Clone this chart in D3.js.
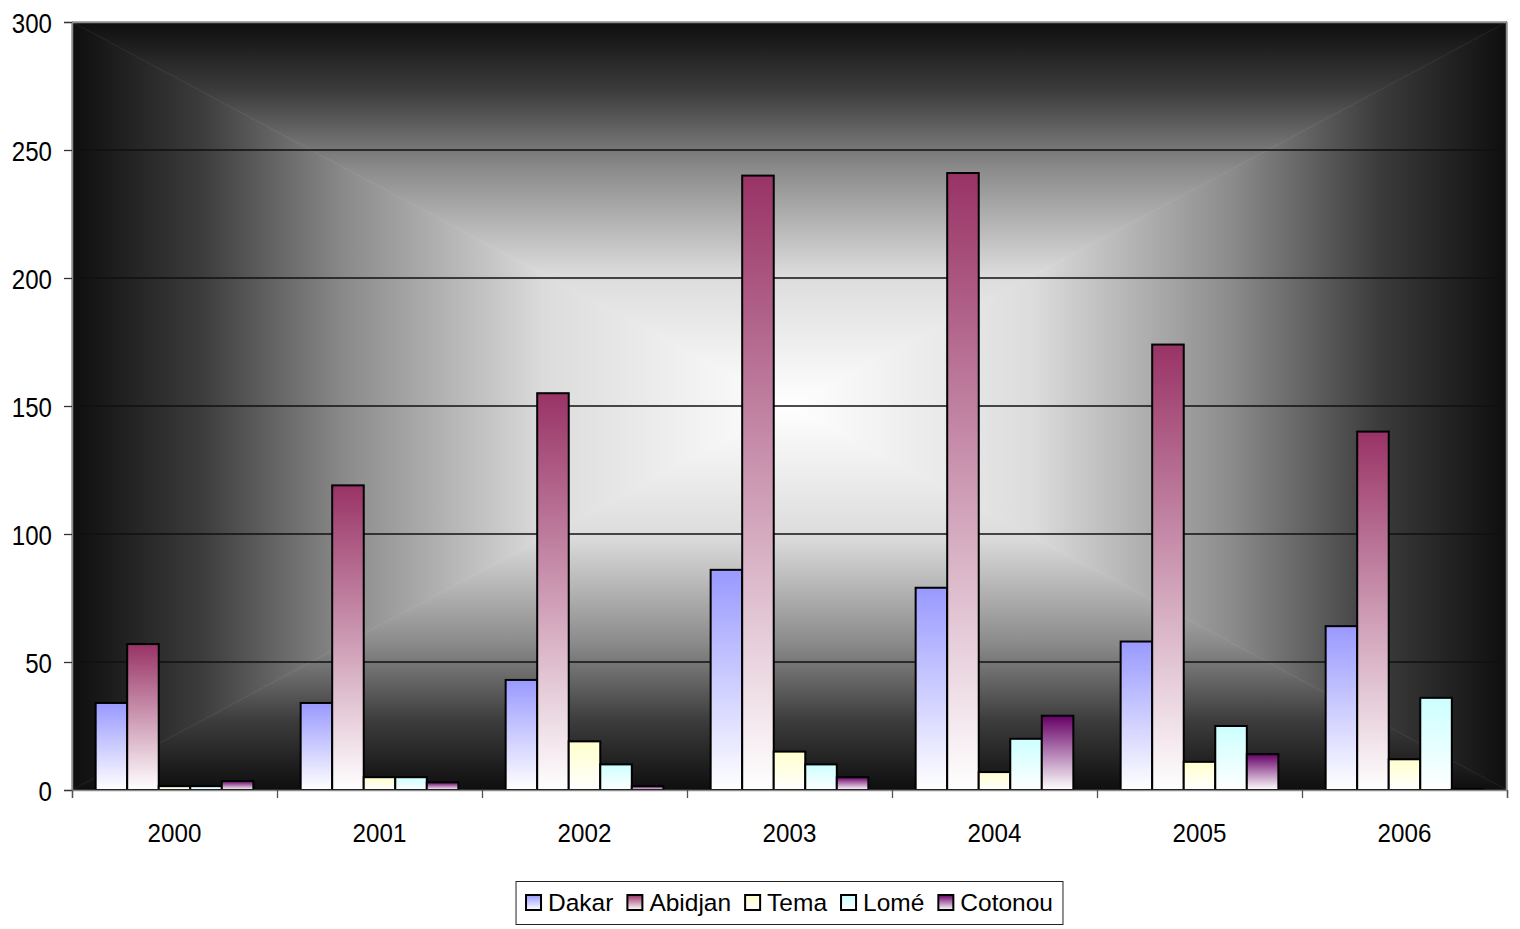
<!DOCTYPE html>
<html>
<head>
<meta charset="utf-8">
<script src="https://cdn.jsdelivr.net/npm/d3@7"></script>
<style>
  html, body { margin: 0; padding: 0; background: #fff; }
  svg { display: block; }
  text { font-family: "Liberation Sans", Arial, sans-serif; fill: #000; }
</style>
</head>
<body>
<svg id="chart" width="1520" height="929"></svg>
<script>
// Yearly values per port
const years = ["2000", "2001", "2002", "2003", "2004", "2005", "2006"];
const ports = ["Dakar", "Abidjan", "Tema", "Lomé", "Cotonou"];
const dakar   = [34, 34, 43, 86, 79, 58, 64];
const abidjan = [57, 119, 155, 240, 241, 174, 140];
const tema    = [1.5, 5, 19, 15, 7, 11, 12];
const lome    = [1.5, 5, 10, 10, 20, 25, 36];
const cotonou = [3.5, 3, 1.5, 5, 29, 14, 0.4];
const yTicks  = [0, 50, 100, 150, 200, 250, 300];

const seriesValues = [dakar, abidjan, tema, lome, cotonou];
const portColors = ["#9999FF", "#993366", "#FFFFCC", "#CCFFFF", "#660066"];

const svg = d3.select("#chart");
const margin = { left: 72, top: 22, right: 13, bottom: 139 };
const W = 1520 - margin.left - margin.right;
const H = 929 - margin.top - margin.bottom;

const defs = svg.append("defs");

// Bar fills: series colour at the top fading to white at the base
portColors.forEach((c, i) => {
  const g = defs.append("linearGradient")
    .attr("id", "bar" + i)
    .attr("x1", 0).attr("y1", 0).attr("x2", 0).attr("y2", 1);
  g.append("stop").attr("offset", 0).attr("stop-color", c);
  g.append("stop").attr("offset", 1).attr("stop-color", "#ffffff");
});

const plot = svg.append("g").attr("transform", `translate(${margin.left},${margin.top})`);

// Plot background: rectangular "from centre" gradient, dark edges, white middle
const profile = [[0, "#0e0e0e"], [0.18, "#3c3c3c"], [0.38, "#8a8a8a"], [0.66, "#dcdcdc"], [1, "#ffffff"]];
const cx = W / 2, cy = H / 2;
const sides = [
  { id: "bgT", pts: [[0, 0], [W, 0], [cx, cy]], v: [0, 0, 0, cy] },
  { id: "bgB", pts: [[0, H], [W, H], [cx, cy]], v: [0, H, 0, cy] },
  { id: "bgL", pts: [[0, 0], [0, H], [cx, cy]], v: [0, 0, cx, 0] },
  { id: "bgR", pts: [[W, 0], [W, H], [cx, cy]], v: [W, 0, cx, 0] }
];
sides.forEach(s => {
  const g = defs.append("linearGradient")
    .attr("id", s.id).attr("gradientUnits", "userSpaceOnUse")
    .attr("x1", s.v[0]).attr("y1", s.v[1]).attr("x2", s.v[2]).attr("y2", s.v[3]);
  profile.forEach(p => g.append("stop").attr("offset", p[0]).attr("stop-color", p[1]));
  plot.append("polygon")
    .attr("points", s.pts.map(p => p.join(",")).join(" "))
    .attr("fill", `url(#${s.id})`)
    .attr("stroke", `url(#${s.id})`)
    .attr("stroke-width", 0.6);
});

// Scales
const y = d3.scaleLinear().domain([0, 300]).range([H, 0]);
const x0 = d3.scaleBand().domain(years).range([0, W]).padding(0);
const gap = x0.bandwidth() * 1.5 / 6.5;
const x1 = d3.scaleBand().domain(ports).range([gap / 2, x0.bandwidth() - gap / 2]).padding(0);

// Gridlines
plot.append("g")
  .selectAll("line")
  .data(yTicks.filter(t => t > 0 && t < 300))
  .join("line")
  .attr("x1", 0).attr("x2", W)
  .attr("y1", d => y(d)).attr("y2", d => y(d))
  .attr("stroke", "#111").attr("stroke-width", 1.3);

// Plot border (top and right)
plot.append("path")
  .attr("d", `M0,0.5H${W - 0.5}V${H}`)
  .attr("fill", "none").attr("stroke", "#8c8c8c").attr("stroke-width", 1.5);

// Bars
const groups = plot.append("g")
  .selectAll("g")
  .data(years)
  .join("g")
  .attr("transform", d => `translate(${x0(d)},0)`);

groups.selectAll("rect")
  .data((yr, i) => ports.map((p, j) => ({ port: p, j, value: seriesValues[j][i] })))
  .join("rect")
  .attr("x", d => x1(d.port))
  .attr("width", x1.bandwidth())
  .attr("y", d => y(d.value))
  .attr("height", d => H - y(d.value))
  .attr("fill", d => `url(#bar${d.j})`)
  .attr("stroke", "#000")
  .attr("stroke-width", 2);

const FONT = "'Liberation Sans', Arial, sans-serif";

// Y axis
const yAxis = plot.append("g")
  .call(d3.axisLeft(y).tickValues(yTicks).tickSize(8).tickPadding(0));
yAxis.select(".domain").attr("stroke", "#8c8c8c").attr("stroke-width", 1.5);
yAxis.selectAll(".tick line").attr("stroke", "#333").attr("stroke-width", 1.3);
yAxis.selectAll(".tick text")
  .attr("x", 0).attr("dy", "0.36em")
  .attr("transform", "translate(-20,0) scale(0.86,1)")
  .style("font-size", "28px")
  .style("font-family", FONT)
  .attr("fill", "#000");

// X axis: boundary ticks and centred year labels
const xb = d3.scaleLinear().domain([0, years.length]).range([0, W]);
const xTickAxis = plot.append("g")
  .attr("transform", `translate(0,${H})`)
  .call(d3.axisBottom(xb).tickValues(d3.range(years.length + 1)).tickSize(8).tickFormat(""));
xTickAxis.select(".domain").attr("stroke", "#8c8c8c").attr("stroke-width", 1.5);
xTickAxis.selectAll(".tick line").attr("stroke", "#555").attr("stroke-width", 1.3);

const xLabelAxis = plot.append("g")
  .attr("transform", `translate(0,${H})`)
  .call(d3.axisBottom(x0).tickSize(0).tickPadding(0));
xLabelAxis.select(".domain").remove();
xLabelAxis.selectAll(".tick text")
  .attr("y", 0).attr("dy", 0)
  .attr("transform", "translate(0,52) scale(0.93,1)")
  .style("font-size", "26px")
  .style("font-family", FONT)
  .attr("fill", "#000");

// Legend
const legend = svg.append("g");
const legendBox = legend.append("rect")
  .attr("fill", "#fff").attr("stroke", "#222").attr("stroke-width", 1);
const items = legend.append("g");
let cursor = 0;
const sw = 15;
const itemGap = 14;
ports.forEach((p, j) => {
  const it = items.append("g").attr("transform", `translate(${cursor},0)`);
  it.append("rect")
    .attr("x", 0).attr("y", -sw / 2).attr("width", sw).attr("height", sw)
    .attr("fill", `url(#bar${j})`).attr("stroke", "#000").attr("stroke-width", 2);
  const t = it.append("text")
    .attr("x", sw + 7).attr("y", sw / 2 + 1)
    .style("font-size", "24.5px")
    .text(p);
  const tw = t.node().getComputedTextLength();
  cursor += sw + 7 + tw + itemGap;
});
const contentW = cursor - itemGap;
const boxPad = 10;
const boxW = contentW + boxPad * 2;
const boxX = margin.left + W / 2 - boxW / 2;
legendBox.attr("x", boxX).attr("y", 881.5).attr("width", boxW).attr("height", 43);
items.attr("transform", `translate(${boxX + boxPad},902.5)`);
</script>
</body>
</html>
